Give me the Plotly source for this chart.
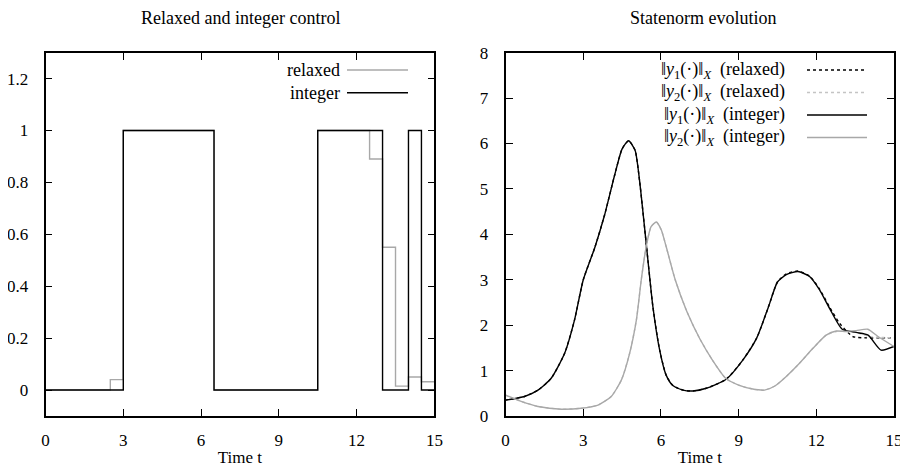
import plotly.graph_objects as go
from plotly.subplots import make_subplots

# ---------------- data ----------------
# Left: control (piecewise constant, value holds until next time point)
relaxed_t = [0, 2.5, 3, 6.5, 10.5, 12.5, 13, 13.5, 14, 14.5, 15]
relaxed_u = [0, 0.04, 1, 0, 1, 0.89, 0.55, 0.015, 0.05, 0.032, 0.032]
integer_t = [0, 3, 6.5, 10.5, 13, 14, 14.5, 15]
integer_u = [0, 1, 0, 1, 0, 1, 0, 0]

# Right: state norms
y1_int_t = [0, 0.73, 1.25, 1.76, 2.28, 2.66, 3.0, 3.44, 3.82, 4.21, 4.5, 4.75, 5.0,
            5.17, 5.43, 5.69, 5.95, 6.2, 6.46, 6.85, 7.23, 7.75, 8.52, 9.16, 9.7,
            10.15, 10.5, 10.84, 11.29, 11.74, 12.12, 12.51, 13.0, 13.54, 14.0, 14.5, 15]
y1_int_v = [0.35, 0.43, 0.57, 0.83, 1.38, 2.11, 3.0, 3.7, 4.42, 5.3, 5.88, 6.06, 5.85,
            5.2, 3.8, 2.4, 1.45, 0.9, 0.67, 0.57, 0.55, 0.61, 0.81, 1.23, 1.72,
            2.4, 2.95, 3.11, 3.18, 3.07, 2.78, 2.37, 1.91, 1.84, 1.78, 1.45, 1.53]

y1_rel_t = [0, 0.73, 1.25, 1.76, 2.28, 2.66, 3.0, 3.44, 3.82, 4.21, 4.5, 4.75, 5.0,
            5.17, 5.43, 5.69, 5.95, 6.2, 6.46, 6.85, 7.23, 7.75, 8.52, 9.16, 9.7,
            10.15, 10.5, 10.84, 11.29, 11.74, 12.12, 12.51, 12.9, 13.41, 13.93, 14.5, 15]
y1_rel_v = [0.35, 0.43, 0.57, 0.83, 1.38, 2.11, 3.0, 3.7, 4.42, 5.3, 5.88, 6.06, 5.85,
            5.2, 3.8, 2.4, 1.45, 0.9, 0.67, 0.57, 0.55, 0.61, 0.81, 1.23, 1.72,
            2.4, 2.95, 3.13, 3.19, 3.08, 2.8, 2.4, 2.04, 1.75, 1.72, 1.72, 1.72]

y2_int_t = [0, 0.6, 1.25, 2.15, 2.92, 3.57, 4.08, 4.47, 4.79, 5.05, 5.24, 5.43, 5.62,
            5.82, 6.01, 6.2, 6.55, 7.0, 7.5, 8.0, 8.5, 9.0, 9.5, 10.0, 10.4, 10.84,
            11.35, 11.87, 12.38, 12.77, 13.15, 13.54, 13.99, 14.38, 15]
y2_int_v = [0.46, 0.32, 0.21, 0.15, 0.17, 0.24, 0.43, 0.79, 1.38, 2.11, 3.0, 3.73, 4.17,
            4.27, 4.1, 3.73, 3.0, 2.3, 1.7, 1.22, 0.83, 0.68, 0.6, 0.57, 0.66, 0.87,
            1.16, 1.49, 1.78, 1.87, 1.86, 1.88, 1.91, 1.75, 1.53]

y2_rel_t = [0, 0.6, 1.25, 2.15, 2.92, 3.57, 4.08, 4.47, 4.79, 5.05, 5.24, 5.43, 5.62,
            5.82, 6.01, 6.2, 6.55, 7.0, 7.5, 8.0, 8.5, 9.0, 9.5, 10.0, 10.4, 10.84,
            11.35, 11.87, 12.38, 12.77, 13.15, 13.54, 14.05, 14.5, 15]
y2_rel_v = [0.46, 0.32, 0.21, 0.15, 0.17, 0.24, 0.43, 0.79, 1.38, 2.11, 3.0, 3.73, 4.17,
            4.27, 4.1, 3.73, 3.0, 2.3, 1.7, 1.22, 0.83, 0.68, 0.6, 0.57, 0.66, 0.87,
            1.16, 1.49, 1.78, 1.86, 1.86, 1.84, 1.75, 1.73, 1.72]

x_ticks = [0, 3, 6, 9, 12, 15]
left_y_ticks = [0, 0.2, 0.4, 0.6, 0.8, 1, 1.2]
right_y_ticks = [0, 1, 2, 3, 4, 5, 6, 7, 8]

left_title = "Relaxed and integer control"
right_title = "Statenorm evolution"
x_title = "Time t"
left_names = ["relaxed", "integer"]
right_names = [
    "‖<i>y</i><sub>1</sub>(·)‖<sub><i>X</i></sub>  (relaxed)",
    "‖<i>y</i><sub>2</sub>(·)‖<sub><i>X</i></sub>  (relaxed)",
    "‖<i>y</i><sub>1</sub>(·)‖<sub><i>X</i></sub>  (integer)",
    "‖<i>y</i><sub>2</sub>(·)‖<sub><i>X</i></sub>  (integer)",
]

# ---------------- style ----------------
# page body has an 8px default margin, so the figure is drawn 8px in from the corner
OFF = 8
W, H = 908 - OFF, 467 - OFF
FONT = "Liberation Serif"
FS = 17
FS_TXT = 18
GRAY = "#a8a8a8"
LGRAY = "#c4c4c4"
BLACK = "#000000"


def px(x):
    return (x - OFF) / W


def py(y):
    return 1 - (y - OFF) / H


fig = make_subplots(rows=1, cols=2)

fig.add_trace(go.Scatter(x=relaxed_t, y=relaxed_u, mode="lines", line_shape="hv",
                         line=dict(color=GRAY, width=1.4), name=left_names[0],
                         showlegend=False), row=1, col=1)
fig.add_trace(go.Scatter(x=integer_t, y=integer_u, mode="lines", line_shape="hv",
                         line=dict(color=BLACK, width=1.4), name=left_names[1],
                         showlegend=False), row=1, col=1)

sm = 0.6
fig.add_trace(go.Scatter(x=y1_rel_t, y=y1_rel_v, mode="lines",
                         line=dict(color=BLACK, width=1.4, dash="dot", shape="spline", smoothing=sm),
                         name=right_names[0], showlegend=False), row=1, col=2)
fig.add_trace(go.Scatter(x=y2_rel_t, y=y2_rel_v, mode="lines",
                         line=dict(color=LGRAY, width=1.4, dash="dot", shape="spline", smoothing=sm),
                         name=right_names[1], showlegend=False), row=1, col=2)
fig.add_trace(go.Scatter(x=y1_int_t, y=y1_int_v, mode="lines",
                         line=dict(color=BLACK, width=1.4, shape="spline", smoothing=sm),
                         name=right_names[2], showlegend=False), row=1, col=2)
fig.add_trace(go.Scatter(x=y2_int_t, y=y2_int_v, mode="lines",
                         line=dict(color=GRAY, width=1.4, shape="spline", smoothing=sm),
                         name=right_names[3], showlegend=False), row=1, col=2)

x1_dom = [px(45.5), px(434.4)]
x2_dom = [px(505.6), px(894)]
y_dom = [py(416), py(52.6)]

axis_common = dict(showline=True, linecolor="black", linewidth=1.8, mirror="ticks",
                   ticks="inside", ticklen=7, tickwidth=1.3, tickcolor="black",
                   showgrid=False, zeroline=False, automargin=False,
                   tickfont=dict(family=FONT, size=FS, color="black"))

fig.update_xaxes(**axis_common, range=[0, 15], tickvals=x_ticks, ticklabelstandoff=8)
fig.update_yaxes(**axis_common, ticklabelstandoff=12)
fig.update_layout(
    xaxis=dict(domain=x1_dom, title=dict(text=x_title, standoff=4,
                                         font=dict(family=FONT, size=FS, color="black"))),
    xaxis2=dict(domain=x2_dom, title=dict(text=x_title, standoff=4,
                                          font=dict(family=FONT, size=FS, color="black"))),
    yaxis=dict(domain=y_dom, range=[-0.1, 1.3], tickvals=left_y_ticks),
    yaxis2=dict(domain=y_dom, range=[0, 8], tickvals=right_y_ticks),
)

annotations = [
    dict(text=left_title, x=px(240), y=py(18), xref="paper", yref="paper",
         xanchor="center", yanchor="middle", showarrow=False, font=dict(size=FS_TXT)),
    dict(text=right_title, x=px(703), y=py(18), xref="paper", yref="paper",
         xanchor="center", yanchor="middle", showarrow=False, font=dict(size=FS_TXT)),
]
shapes = []

# left key
left_rows = [70, 92.7]
left_colors = [GRAY, BLACK]
for name, yy, c in zip(left_names, left_rows, left_colors):
    annotations.append(dict(text=name, x=px(342), y=py(yy), xref="paper", yref="paper",
                            xanchor="right", yanchor="middle", showarrow=False,
                            font=dict(size=FS_TXT)))
    shapes.append(dict(type="line", xref="paper", yref="paper", x0=px(347), x1=px(408),
                       y0=py(yy), y1=py(yy), line=dict(color=c, width=1.4)))

# right key
right_rows = [70, 92.5, 115, 137.5]
right_styles = [(BLACK, "dot"), (LGRAY, "dot"), (BLACK, "solid"), (GRAY, "solid")]
for name, yy, (c, d) in zip(right_names, right_rows, right_styles):
    annotations.append(dict(text=name, x=px(787), y=py(yy), xref="paper", yref="paper",
                            xanchor="right", yanchor="middle", showarrow=False,
                            font=dict(size=FS_TXT)))
    shapes.append(dict(type="line", xref="paper", yref="paper", x0=px(807), x1=px(867),
                       y0=py(yy), y1=py(yy), line=dict(color=c, width=1.4, dash=d)))

fig.update_layout(
    width=W, height=H,
    margin=dict(l=0, r=0, t=0, b=0),
    paper_bgcolor="white", plot_bgcolor="white",
    font=dict(family=FONT, size=FS, color="black"),
    annotations=annotations, shapes=shapes,
    showlegend=False,
)

fig.write_html("out.html")
